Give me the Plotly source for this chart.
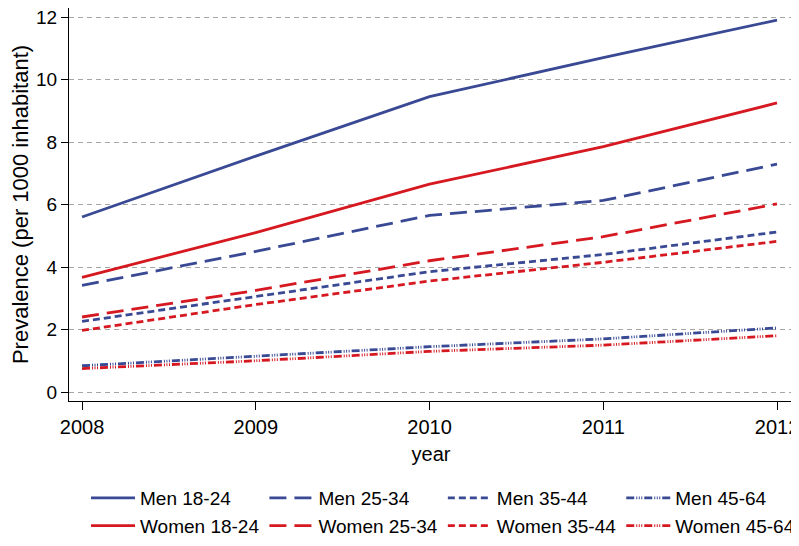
import plotly.graph_objects as go

years = [2008, 2009, 2010, 2011, 2012]

men_18_24 = [5.6, 7.55, 9.45, 10.7, 11.9]
men_25_34 = [3.41, 4.5, 5.65, 6.13, 7.29]
men_35_44 = [2.26, 3.05, 3.85, 4.4, 5.12]
men_45_64 = [0.84, 1.15, 1.45, 1.7, 2.05]

women_18_24 = [3.67, 5.1, 6.65, 7.85, 9.25]
women_25_34 = [2.4, 3.25, 4.2, 4.97, 6.02]
women_35_44 = [1.97, 2.8, 3.55, 4.15, 4.82]
women_45_64 = [0.75, 1.0, 1.3, 1.5, 1.8]

yticks = [0, 2, 4, 6, 8, 10, 12]

BLUE = "rgb(57,73,148)"
RED = "rgb(214,24,32)"
FONT = "Liberation Sans, Arial, sans-serif"

dash_long = "17px,8px"
dash_short = "7px,4px"
dash_dot = "8px,2px,1px,1.5px,1px,1.5px,1px,2px"

series = [
    ("Men 18-24", men_18_24, BLUE, "solid"),
    ("Men 25-34", men_25_34, BLUE, dash_long),
    ("Men 35-44", men_35_44, BLUE, dash_short),
    ("Men 45-64", men_45_64, BLUE, dash_dot),
    ("Women 18-24", women_18_24, RED, "solid"),
    ("Women 25-34", women_25_34, RED, dash_long),
    ("Women 35-44", women_35_44, RED, dash_short),
    ("Women 45-64", women_45_64, RED, dash_dot),
]

fig = go.Figure()
for name, vals, col, dash in series:
    fig.add_trace(go.Scatter(
        x=years, y=vals, name=name, mode="lines",
        line=dict(color=col, width=2.8, dash=dash),
    ))

# page body has an 8px margin, so the figure is sized to fit inside the window
fig.update_layout(
    width=791, height=538,
    margin=dict(l=61, r=6, t=0, b=145),
    plot_bgcolor="white", paper_bgcolor="white",
    font=dict(family=FONT, size=19, color="black"),
    legend=dict(
        orientation="h", xref="container", x=0.0986, xanchor="left",
        yref="container", y=0.1245, yanchor="top",
        itemwidth=44, font=dict(size=19), traceorder="normal",
        tracegroupgap=0, bgcolor="rgba(0,0,0,0)",
    ),
)

fig.update_xaxes(
    range=[2007.925, 2012.092], tickvals=years,
    showline=True, linecolor="black", linewidth=1,
    ticks="outside", ticklen=8, tickcolor="black",
    showgrid=False, zeroline=False, ticklabeloverflow="allow",
    automargin=False,
    tickfont=dict(size=20),
    title=dict(text="year", font=dict(size=20), standoff=9),
)
fig.update_yaxes(
    range=[-0.288, 12.288], tickvals=yticks,
    showline=True, linecolor="black", linewidth=1,
    ticks="outside", ticklen=7, tickcolor="black",
    showgrid=True, gridcolor="rgb(165,165,165)", gridwidth=1, griddash="5px,4px",
    zeroline=False, ticklabeloverflow="allow", automargin=False,
    tickfont=dict(size=19),
    title=dict(text="Prevalence (per 1000 inhabitant)", font=dict(size=22), standoff=17),
)

fig.write_html("out.html")
